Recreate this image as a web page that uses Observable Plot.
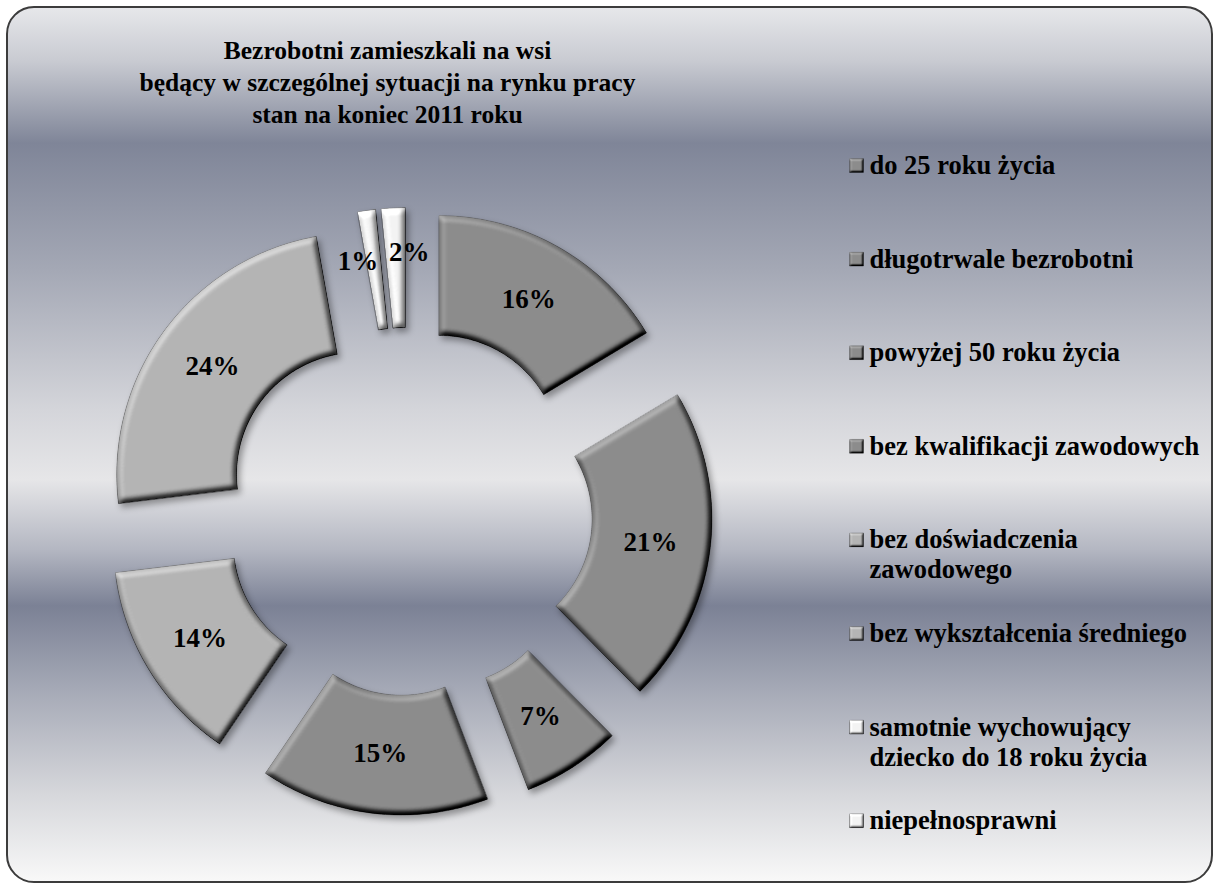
<!DOCTYPE html>
<html>
<head>
<meta charset="utf-8">
<script src="https://cdn.jsdelivr.net/npm/d3@7"></script>
<script src="https://cdn.jsdelivr.net/npm/@observablehq/plot@0.6"></script>
<style>
  html, body { margin: 0; padding: 0; background: #ffffff; }
  #wrap { position: relative; width: 1219px; height: 888px; overflow: hidden; }
  #card {
    position: absolute; left: 6px; top: 6px; width: 1203px; height: 873px;
    border: 2px solid #3c3c3c; border-radius: 28px;
    background: linear-gradient(to bottom,
      #e6e7ea 0%, #c9cbd2 6%, #7f8598 15.5%, #a4a8b5 30%, #d4d5da 46%, #e6e6e8 54%,
      #b4b7c2 62%, #7b8195 68.5%, #a5a9b6 78%, #d6d7db 90%, #f8f8f8 100%);
  }
  #chart { position: absolute; left: 0; top: 0; }
</style>
</head>
<body>
<div id="wrap"><div id="card"></div><div id="chart"></div></div>
<script>
// ---- data ----
const titleLines = [
  "Bezrobotni zamieszkali na wsi",
  "będący w szczególnej sytuacji na rynku pracy",
  "stan na koniec 2011 roku"
];
const categories = [
  "do 25 roku życia",
  "długotrwale bezrobotni",
  "powyżej 50 roku życia",
  "bez kwalifikacji zawodowych",
  "bez doświadczenia\nzawodowego",
  "bez wykształcenia średniego",
  "samotnie wychowujący\ndziecko do 18 roku życia",
  "niepełnosprawni"
];
const shares = [16.4, 21.2, 6.6, 15.3, 13.6, 24.1, 1.2, 1.6];
const groups = ["dark", "dark", "dark", "dark", "light", "light", "white", "white"];

// ---- styles / layout ----
const palette = {dark: "#8c8c8c", light: "#b4b4b4", white: "#f3f3f3"};
const W = 1219, H = 888;
const CX = 408, CY = 511, R_OUT = 242, R_IN = 122, EXPLODE = 62;
const FONT = "'Liberation Serif', 'Times New Roman', serif";

const total = d3.sum(shares);
const slices = [];
let acc = 0;
shares.forEach((v, i) => {
  const a0 = acc / total * 2 * Math.PI;
  acc += v;
  const a1 = acc / total * 2 * Math.PI;
  slices.push({i, v, a0, a1, mid: (a0 + a1) / 2});
});

function slicePoints(s) {
  const ox = EXPLODE * Math.sin(s.mid), oy = -EXPLODE * Math.cos(s.mid);
  const n = Math.max(3, Math.ceil((s.a1 - s.a0) / (Math.PI / 180)));
  const pts = [];
  for (let k = 0; k <= n; k++) {
    const a = s.a0 + (s.a1 - s.a0) * k / n;
    pts.push({x: CX + ox + R_OUT * Math.sin(a), y: CY + oy - R_OUT * Math.cos(a)});
  }
  for (let k = n; k >= 0; k--) {
    const a = s.a0 + (s.a1 - s.a0) * k / n;
    pts.push({x: CX + ox + R_IN * Math.sin(a), y: CY + oy - R_IN * Math.cos(a)});
  }
  return pts;
}

// label positions (tiny slices get their label beside them)
const nudge = {6: [-17, -8], 7: [13, -15]};
const labels = slices.map(s => {
  const rm = (R_OUT + R_IN) / 2 + EXPLODE;
  const [nx, ny] = nudge[s.i] || [0, 0];
  return {
    x: CX + rm * Math.sin(s.mid) + nx,
    y: CY - rm * Math.cos(s.mid) + ny,
    text: Math.round(s.v) + "%"
  };
});

// legend rows
const LEG_Y0 = 165, LEG_STEP = 93.6, LEG_LINE = 30, LEG_ICON_X = 856, LEG_TEXT_X = 869;
const legendIcons = categories.map((c, i) => ({x: LEG_ICON_X, y: LEG_Y0 + i * LEG_STEP, fill: palette[groups[i]]}));
const legendText = categories.flatMap((c, i) =>
  c.split("\n").map((line, j) => ({x: LEG_TEXT_X, y: LEG_Y0 + i * LEG_STEP + j * LEG_LINE, text: line})));

const titleRows = titleLines.map((t, j) => ({x: 387, y: 50 + j * 32, text: t}));

const marks = [];
slices.forEach(s => {
  marks.push(Plot.line(slicePoints(s), {
    x: "x", y: "y", curve: "linear-closed",
    fill: palette[groups[s.i]], stroke: "#6a6a6a", strokeWidth: 0.6
  }));
});
legendIcons.forEach(d => {
  marks.push(Plot.dot([d], {x: "x", y: "y", symbol: "square", r: 7.9, fill: d.fill, stroke: "#777", strokeWidth: 0.5}));
});
marks.push(Plot.text(labels, {x: "x", y: "y", text: "text", fontFamily: FONT, fontWeight: "bold", fontSize: 27, fill: "#000"}));
marks.push(Plot.text(legendText, {x: "x", y: "y", text: "text", textAnchor: "start", fontFamily: FONT, fontWeight: "bold", fontSize: 26.5, fill: "#000"}));
marks.push(Plot.text(titleRows, {x: "x", y: "y", text: "text", fontFamily: FONT, fontWeight: "bold", fontSize: 25.5, fill: "#000"}));

const svg = Plot.plot({
  width: W, height: H, margin: 0,
  x: {domain: [0, W], range: [0, W], axis: null},
  y: {domain: [0, H], range: [0, H], axis: null},
  style: {background: "transparent", overflow: "visible"},
  marks
});

const NS = "http://www.w3.org/2000/svg";
const defs = document.createElementNS(NS, "defs");
defs.innerHTML = `
<filter id="bevel" filterUnits="userSpaceOnUse" x="0" y="0" width="${W}" height="${H}" color-interpolation-filters="sRGB">
  <feGaussianBlur in="SourceAlpha" stdDeviation="3" result="blur"/>
  <feDiffuseLighting in="blur" surfaceScale="6" diffuseConstant="1" lighting-color="#ffffff" result="diff">
    <feDistantLight azimuth="235" elevation="55"/>
  </feDiffuseLighting>
  <feComposite in="SourceGraphic" in2="diff" operator="arithmetic" k1="0" k2="1" k3="0.75" k4="-0.614" result="lit"/>
  <feComposite in="lit" in2="SourceAlpha" operator="in" result="litIn"/>
  <feGaussianBlur in="SourceAlpha" stdDeviation="3" result="sb"/>
  <feOffset in="sb" dx="3" dy="4" result="so"/>
  <feFlood flood-color="#000000" flood-opacity="0.35" result="fl"/>
  <feComposite in="fl" in2="so" operator="in" result="shadow"/>
  <feMerge><feMergeNode in="shadow"/><feMergeNode in="litIn"/></feMerge>
</filter>
<filter id="bevelSmall" filterUnits="userSpaceOnUse" x="0" y="0" width="${W}" height="${H}" color-interpolation-filters="sRGB">
  <feGaussianBlur in="SourceAlpha" stdDeviation="1.2" result="blur"/>
  <feDiffuseLighting in="blur" surfaceScale="3" diffuseConstant="1" lighting-color="#ffffff" result="diff">
    <feDistantLight azimuth="235" elevation="55"/>
  </feDiffuseLighting>
  <feComposite in="SourceGraphic" in2="diff" operator="arithmetic" k1="0" k2="1" k3="0.7" k4="-0.573" result="lit"/>
  <feComposite in="lit" in2="SourceAlpha" operator="in"/>
</filter>`;
svg.insertBefore(defs, svg.firstChild);
const markGroups = Array.from(svg.children).filter(el => el.tagName.toLowerCase() === "g");
markGroups.slice(0, slices.length).forEach(g => g.setAttribute("filter", "url(#bevel)"));
markGroups.slice(slices.length, slices.length + legendIcons.length).forEach(g => g.setAttribute("filter", "url(#bevelSmall)"));

document.getElementById("chart").appendChild(svg);
</script>
</body>
</html>
